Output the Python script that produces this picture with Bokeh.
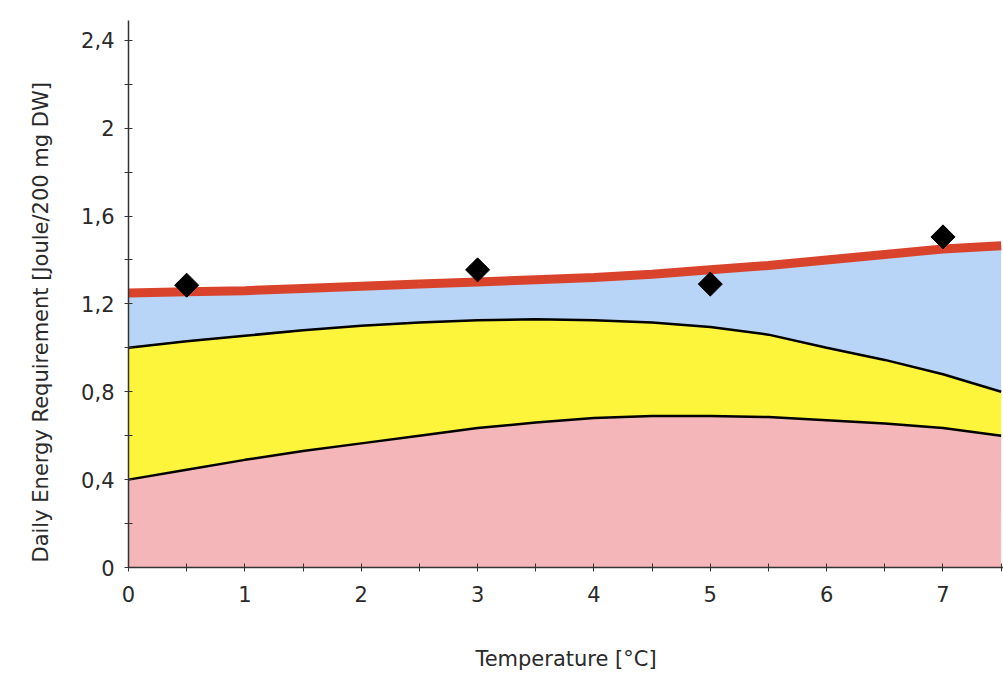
import numpy as np
from bokeh.plotting import figure
from bokeh.models import FixedTicker, Range1d, Title
from bokeh.embed import file_html
from bokeh.resources import INLINE

# Data
temp = [0, 0.5, 1, 1.5, 2, 2.5, 3, 3.5, 4, 4.5, 5, 5.5, 6, 6.5, 7, 7.5]
lower = [0.40, 0.445, 0.49, 0.53, 0.565, 0.60, 0.635, 0.66, 0.68, 0.69, 0.69, 0.685, 0.67, 0.655, 0.635, 0.60]
upper = [1.00, 1.03, 1.055, 1.08, 1.10, 1.115, 1.125, 1.13, 1.125, 1.115, 1.095, 1.06, 1.00, 0.945, 0.88, 0.80]
total = [1.25, 1.255, 1.26, 1.27, 1.28, 1.29, 1.30, 1.31, 1.32, 1.335, 1.355, 1.375, 1.40, 1.425, 1.45, 1.465]
base = [0.0] * len(temp)

obs_temp = [0.5, 3, 5, 7]
obs_energy = [1.285, 1.355, 1.29, 1.505]

x_ticks = [0, 1, 2, 3, 4, 5, 6, 7]
x_minor = [0.5, 1.5, 2.5, 3.5, 4.5, 5.5, 6.5, 7.5]
y_ticks = [0, 0.4, 0.8, 1.2, 1.6, 2.0, 2.4]
y_labels = ["0", "0,4", "0,8", "1,2", "1,6", "2", "2,4"]
y_minor = [0.2, 0.6, 1.0, 1.4, 1.8, 2.2]

FONT = "DejaVu Sans"
TXT = "#2a2a2a"

p = figure(width=1003, height=673, output_backend="svg", toolbar_location=None,
           x_range=Range1d(0, 7.52), y_range=Range1d(0, 2.49),
           min_border_left=128, min_border_right=0, min_border_top=20, min_border_bottom=106)
p.outline_line_color = None
p.xgrid.visible = False
p.ygrid.visible = False
p.background_fill_color = "white"
p.border_fill_color = "white"

p.varea(x=temp, y1=base, y2=lower, fill_color="#f4b6b8")
p.varea(x=temp, y1=lower, y2=upper, fill_color="#fdf43c")
p.varea(x=temp, y1=upper, y2=total, fill_color="#b8d4f6")
p.line(temp, lower, line_color="black", line_width=2.5)
p.line(temp, upper, line_color="black", line_width=2.5)
p.line(temp, total, line_color="#d9432c", line_width=9)
p.scatter(obs_temp, obs_energy, marker="square", angle=np.pi / 4, size=17,
          fill_color="black", line_color="black")

p.xaxis.ticker = FixedTicker(ticks=x_ticks, minor_ticks=x_minor)
p.yaxis.ticker = FixedTicker(ticks=y_ticks, minor_ticks=y_minor)
p.yaxis.major_label_overrides = {t: l for t, l in zip(y_ticks, y_labels)}
p.xaxis.axis_label = "Temperature [°C]"

for ax in (p.xaxis, p.yaxis):
    ax.axis_line_color = "#333333"
    ax.axis_line_width = 1.5
    ax.major_tick_line_color = "#333333"
    ax.minor_tick_line_color = "#333333"
    ax.major_tick_in = 4
    ax.major_tick_out = 4
    ax.minor_tick_in = 4
    ax.minor_tick_out = 4
    ax.major_label_text_font = FONT
    ax.major_label_text_font_size = "21px"
    ax.major_label_text_color = TXT
    ax.axis_label_text_font = FONT
    ax.axis_label_text_font_size = "21px"
    ax.axis_label_text_font_style = "normal"
    ax.axis_label_text_color = TXT

p.xaxis.major_label_standoff = 14
p.xaxis.axis_label_standoff = 42
p.yaxis.major_label_standoff = 10

ytitle = Title(text="Daily Energy Requirement [Joule/200 mg DW]", align="left",
               offset=5, standoff=52, text_font=FONT, text_font_size="21px",
               text_font_style="normal", text_color=TXT)
p.add_layout(ytitle, "left")

open("out.html", "w").write(file_html(p, INLINE))
